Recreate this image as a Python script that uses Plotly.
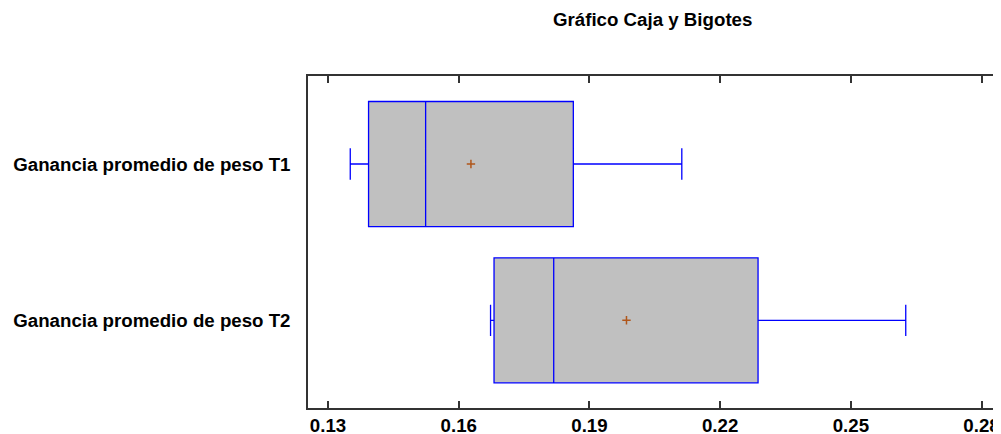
import plotly.graph_objects as go

categories = ["Ganancia promedio de peso T1", "Ganancia promedio de peso T2"]
lower_whisker = [0.1351, 0.1673]
q1_values = [0.1393, 0.1681]
median_values = [0.1524, 0.1818]
q3_values = [0.1863, 0.2287]
upper_whisker = [0.2112, 0.2626]
mean_values = [0.1628, 0.1985]
x_ticks = [0.13, 0.16, 0.19, 0.22, 0.25, 0.28]
x_tick_labels = ["0.13", "0.16", "0.19", "0.22", "0.25", "0.28"]

FONT = dict(family="Liberation Sans, Arial, sans-serif", size=18.7, color="black", weight="bold")

fig = go.Figure()
fig.add_trace(go.Box(
    y=categories,
    q1=q1_values,
    median=median_values,
    q3=q3_values,
    lowerfence=lower_whisker,
    upperfence=upper_whisker,
    orientation="h",
    fillcolor="#C0C0C0",
    line=dict(color="#0000FF", width=1.3),
    whiskerwidth=0.25,
    width=0.8,
    boxpoints=False,
    showlegend=False,
    hoverinfo="skip",
))
fig.add_trace(go.Scatter(
    x=mean_values,
    y=categories,
    mode="markers",
    marker=dict(symbol="cross-thin", size=6, line=dict(color="#B0561A", width=1.5)),
    showlegend=False,
    hoverinfo="skip",
))

fig.update_layout(
    width=1001,
    height=434,
    margin=dict(l=300, r=0, t=68, b=34, pad=0, autoexpand=False),
    paper_bgcolor="white",
    plot_bgcolor="white",
    font=FONT,
    annotations=[dict(
        text="Gráfico Caja y Bigotes",
        xref="paper", yref="paper",
        x=0.4919, y=1.0,
        yshift=57,
        xanchor="center", yanchor="middle",
        showarrow=False,
        font=FONT,
    )],
)
fig.update_xaxes(
    range=[0.1254, 0.2863],
    tickvals=x_ticks,
    ticktext=x_tick_labels,
    ticks="inside",
    ticklen=7,
    tickwidth=1.5,
    tickcolor="#333333",
    showline=True,
    linecolor="#333333",
    linewidth=1.5,
    mirror="ticks",
    showgrid=False,
    zeroline=False,
    tickfont=FONT,
    ticklabelstandoff=0,
    automargin=False,
)
fig.update_yaxes(
    type="category",
    categoryorder="array",
    categoryarray=categories,
    range=[1.561, -0.563],
    showline=True,
    linecolor="#333333",
    linewidth=1.5,
    ticks="",
    showgrid=False,
    zeroline=False,
    tickfont=FONT,
    ticklabelstandoff=12,
    automargin=False,
)

fig.write_html("out.html")
